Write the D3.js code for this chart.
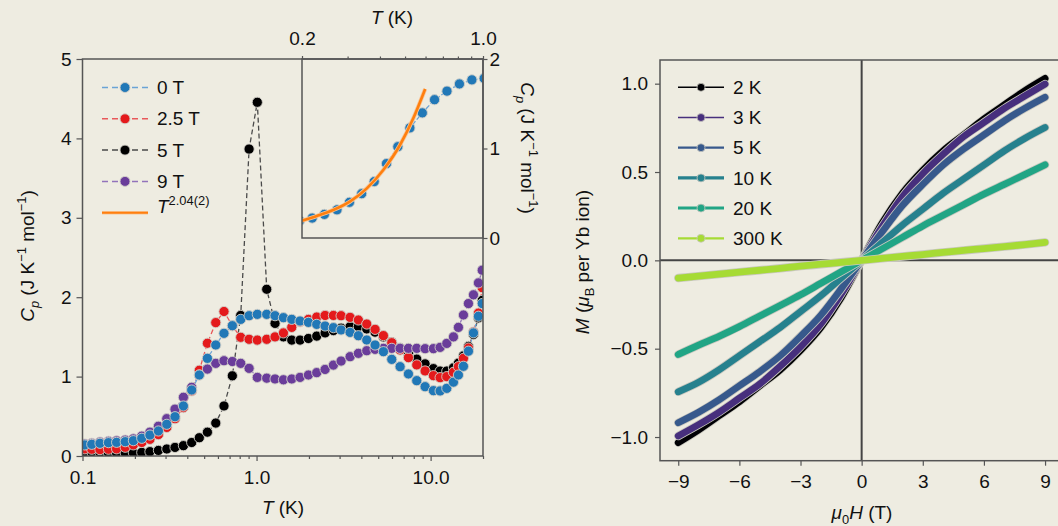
<!DOCTYPE html>
<html><head><meta charset="utf-8">
<script src="https://cdn.jsdelivr.net/npm/d3@7"></script>
<style>
html,body{margin:0;padding:0;background:#eeece1;}
svg{display:block;font-family:"Liberation Sans",Arial,Helvetica,sans-serif;}
</style></head><body>
<svg id="chart" width="1058" height="526"></svg>
<script>
// ---------- DATA: heat capacity (left panel) ----------
const temps = [0.103,0.113,0.126,0.141,0.157,0.176,0.196,0.219,0.244,0.273,0.305,0.340,0.380,0.424,0.469,0.522,0.583,0.650,0.726,0.811,0.906,1.01,
  1.144,1.277,1.427,1.593,1.778,1.986,2.217,2.476,2.764,3.06,3.446,3.847,4.297,4.797,5.357,5.982,6.679,7.458,8.327,9.299,
  10.38,11.34,12.39,13.53,14.45,15.44,16.50,17.63,18.83,19.8];
const cp0T = [0.139,0.147,0.160,0.168,0.172,0.180,0.193,0.223,0.264,0.315,0.399,0.495,0.630,0.831,1.020,1.230,1.398,1.545,1.641,1.721,1.767,1.784,
  1.784,1.767,1.742,1.721,1.700,1.683,1.658,1.637,1.616,1.587,1.557,1.515,1.461,1.398,1.314,1.217,1.125,1.033,0.949,0.873,
  0.823,0.819,0.852,0.930,1.020,1.130,1.320,1.550,1.760,1.920];
const cp25T = [0.090,0.085,0.080,0.085,0.090,0.110,0.140,0.170,0.210,0.270,0.360,0.470,0.610,0.820,1.080,1.420,1.680,1.820,1.640,1.495,1.470,1.460,
  1.470,1.500,1.550,1.620,1.690,1.720,1.750,1.770,1.770,1.767,1.746,1.713,1.662,1.595,1.516,1.427,1.335,1.239,1.147,1.071,
  1.012,0.987,1.000,1.054,1.125,1.230,1.360,1.560,1.800,2.120];
const cp5T = [0.055,0.050,0.045,0.040,0.038,0.038,0.040,0.045,0.055,0.070,0.088,0.108,0.130,0.170,0.230,0.300,0.415,0.630,1.010,1.770,3.866,4.455,
  2.100,1.670,1.500,1.460,1.460,1.480,1.510,1.550,1.580,1.610,1.630,1.630,1.600,1.560,1.500,1.430,1.360,1.290,1.220,1.160,
  1.100,1.070,1.070,1.110,1.170,1.260,1.380,1.530,1.740,1.960];
const cp9T = [0.150,0.160,0.175,0.185,0.190,0.200,0.215,0.250,0.300,0.375,0.470,0.590,0.740,0.865,1.020,1.095,1.167,1.200,1.190,1.167,1.104,0.990,
  0.980,0.970,0.960,0.970,0.990,1.020,1.050,1.090,1.145,1.196,1.251,1.293,1.326,1.343,1.356,1.356,1.356,1.356,1.356,1.352,
  1.352,1.368,1.418,1.500,1.620,1.776,1.920,2.030,2.180,2.340];
// power-law fit curve in the inset
const fitT  = [0.200,0.228,0.264,0.306,0.356,0.412,0.478,0.538,0.598];
const fitCp = [0.193,0.246,0.313,0.406,0.555,0.760,1.039,1.337,1.665];

const fieldLabels = ["0 T","2.5 T","5 T","9 T"];
const mainXTicks = [0.1,1,10];
const mainXTickLabels = ["0.1","1.0","10.0"];
const mainXMinor = [0.2,0.3,0.4,0.5,0.6,0.7,0.8,0.9,2,3,4,5,6,7,8,9,20];
const mainYTicks = [0,1,2,3,4,5];
const insetXTicks = [0.2,1.0];
const insetXTickLabels = ["0.2","1.0"];
const insetXMinor = [0.3,0.4,0.5,0.6,0.7,0.8,0.9];
const insetYTicks = [0,1,2];

// ---------- DATA: magnetization (right panel) ----------
const fieldH = [-9,-8,-7,-6,-5,-4,-3,-2,-1,0,1,2,3,4,5,6,7,8,9];
const m2K  = [-1.032,-0.96,-0.88,-0.80,-0.71,-0.62,-0.51,-0.38,-0.21,0,0.21,0.38,0.51,0.62,0.71,0.80,0.88,0.96,1.03];
const m3K  = [-0.994,-0.93,-0.86,-0.78,-0.70,-0.60,-0.49,-0.36,-0.19,0,0.19,0.36,0.49,0.60,0.70,0.78,0.86,0.93,0.998];
const m5K  = [-0.919,-0.86,-0.79,-0.71,-0.63,-0.54,-0.43,-0.31,-0.16,0,0.16,0.31,0.43,0.54,0.63,0.71,0.79,0.86,0.923];
const m10K = [-0.744,-0.69,-0.62,-0.54,-0.46,-0.38,-0.29,-0.20,-0.10,0,0.10,0.20,0.29,0.38,0.46,0.54,0.62,0.69,0.752];
const m20K = [-0.533,-0.48,-0.43,-0.375,-0.315,-0.255,-0.195,-0.13,-0.065,0,0.065,0.13,0.195,0.255,0.315,0.375,0.43,0.485,0.541];
const m300K= [-0.100,-0.089,-0.078,-0.067,-0.056,-0.045,-0.033,-0.022,-0.011,0,0.011,0.022,0.033,0.045,0.056,0.067,0.078,0.089,0.102];
const tempLabels = ["2 K","3 K","5 K","10 K","20 K","300 K"];
const hTicks = [-9,-6,-3,0,3,6,9];
const hTickLabels = ["\u22129","\u22126","\u22123","0","3","6","9"];
const mTicks = [-1,-0.5,0,0.5,1];
const mTickLabels = ["\u22121.0","\u22120.5","0.0","0.5","1.0"];

// ---------- DRAWING ----------
const svg = d3.select("#chart");
const BG = "#eeece1", AX = "#555", TXT = "#111", FS = 19;
svg.append("rect").attr("width",1058).attr("height",526).attr("fill",BG);
const defs = svg.append("defs");

function rich(sel, parts, size){
  let cur = 0;
  parts.forEach(p=>{
    const shift = p.sub ? 0.28*size : (p.sup ? -0.42*size : 0);
    const ts = sel.append("tspan").text(p.t).attr("dy", shift - cur);
    if(p.it) ts.attr("font-style","italic");
    if(p.sub || p.sup) ts.attr("font-size", size*0.68);
    cur = shift;
  });
}
function styleAxis(g){
  g.select(".domain").remove();
  g.selectAll(".tick line").attr("stroke",AX).attr("stroke-width",1.2);
  g.selectAll(".tick text").attr("fill",TXT).attr("font-size",FS).attr("font-family",null);
}

// ===== Left panel =====
const x = d3.scaleLog().domain([0.1,20]).range([82.5,483]);
const y = d3.scaleLinear().domain([0,5]).range([456,59]);
defs.append("clipPath").attr("id","clipMain").append("rect")
  .attr("x",x.range()[0]).attr("y",y.range()[1]).attr("width",x.range()[1]-x.range()[0]).attr("height",y.range()[0]-y.range()[1]);

const seriesDraw = [
  {key:2, values:cp5T,  fill:"#000000", line:"#4a4a4a"},
  {key:1, values:cp25T, fill:"#e41a1c", line:"#e8585a"},
  {key:3, values:cp9T,  fill:"#6a3d9a", line:"#9273bb"},
  {key:0, values:cp0T,  fill:"#2178b7", line:"#6aa3d6"}
];

const gMain = svg.append("g").attr("clip-path","url(#clipMain)");
const lineMain = d3.line().x((d,i)=>x(temps[i])).y(d=>y(d));
seriesDraw.forEach(s=>{
  gMain.append("path").attr("d",lineMain(s.values)).attr("fill","none")
    .attr("stroke",s.line).attr("stroke-width",1.3).attr("stroke-dasharray","5,3");
});
seriesDraw.forEach(s=>{
  gMain.selectAll(null).data(s.values).enter().append("circle")
    .attr("cx",(d,i)=>x(temps[i])).attr("cy",d=>y(d)).attr("r",5.1)
    .attr("fill",s.fill).attr("stroke","#d2d0c8").attr("stroke-width",0.9);
});

// axes
const axB = svg.append("g").attr("transform","translate(0,456)")
  .call(d3.axisBottom(x).tickValues(mainXTicks).tickFormat((d,i)=>mainXTickLabels[i]).tickSize(5).tickPadding(10));
styleAxis(axB);
const axBm = svg.append("g").attr("transform","translate(0,456)")
  .call(d3.axisBottom(x).tickValues(mainXMinor).tickFormat("").tickSize(3));
styleAxis(axBm);
const axL = svg.append("g").attr("transform","translate(82.5,0)")
  .call(d3.axisLeft(y).tickValues(mainYTicks).tickFormat(d3.format("d")).tickSize(6).tickPadding(5));
styleAxis(axL);

// inset
const xi = d3.scaleLog().domain([0.2,1.0]).range([302,483]);
const yi = d3.scaleLinear().domain([0,2]).range([238,59]);
svg.append("rect").attr("x",302).attr("y",59).attr("width",181).attr("height",179).attr("fill",BG);
defs.append("clipPath").attr("id","clipInset").append("rect").attr("x",302).attr("y",59).attr("width",181).attr("height",179);
const gIn = svg.append("g").attr("clip-path","url(#clipInset)");
const inIdx = temps.map((t,i)=>i).filter(i=>temps[i]>0.18 && temps[i]<1.1);
const lineIn = d3.line().x(i=>xi(temps[i])).y(i=>yi(cp0T[i]));
gIn.append("path").attr("d",lineIn(inIdx)).attr("fill","none").attr("stroke","#6aa3d6")
  .attr("stroke-width",1.3).attr("stroke-dasharray","5,2");
gIn.selectAll(null).data(inIdx).enter().append("circle")
  .attr("cx",i=>xi(temps[i])).attr("cy",i=>yi(cp0T[i])).attr("r",5.1)
  .attr("fill","#2178b7").attr("stroke","#d2d0c8").attr("stroke-width",0.9);
const lineFit = d3.line().curve(d3.curveMonotoneX).x((d,i)=>xi(fitT[i])).y(d=>yi(d));
gIn.append("path").attr("d",lineFit(fitCp)).attr("fill","none").attr("stroke","#f7c79a").attr("stroke-width",4.2);
gIn.append("path").attr("d",lineFit(fitCp)).attr("fill","none").attr("stroke","#ff7f0e").attr("stroke-width",2.6);

const axT = svg.append("g").attr("transform","translate(0,59)")
  .call(d3.axisTop(xi).tickValues(insetXTicks).tickFormat((d,i)=>insetXTickLabels[i]).tickSize(3).tickPadding(11));
styleAxis(axT);
const axTm = svg.append("g").attr("transform","translate(0,59)")
  .call(d3.axisTop(xi).tickValues(insetXMinor).tickFormat("").tickSize(2.5));
styleAxis(axTm);
const axR = svg.append("g").attr("transform","translate(483,0)")
  .call(d3.axisRight(yi).tickValues(insetYTicks).tickFormat(d3.format("d")).tickSize(4.5).tickPadding(2));
styleAxis(axR);

// frames
svg.append("rect").attr("x",82.5).attr("y",59).attr("width",400.5).attr("height",397)
  .attr("fill","none").attr("stroke",AX).attr("stroke-width",1.5);
svg.append("rect").attr("x",302).attr("y",59).attr("width",181).attr("height",179)
  .attr("fill","none").attr("stroke",AX).attr("stroke-width",1.5);

// labels left panel
const ylab = svg.append("text").attr("transform","translate(34,256) rotate(-90)")
  .attr("text-anchor","middle").attr("font-size",FS).attr("fill",TXT);
rich(ylab,[{t:"C",it:true},{t:"p",it:true,sub:true},{t:" (J K"},{t:"\u22121",sup:true},{t:" mol"},{t:"\u22121",sup:true},{t:")"}],FS);
const xlab = svg.append("text").attr("x",283).attr("y",514).attr("text-anchor","middle").attr("font-size",FS).attr("fill",TXT);
rich(xlab,[{t:"T",it:true},{t:" (K)"}],FS);
const xlabI = svg.append("text").attr("x",392).attr("y",24).attr("text-anchor","middle").attr("font-size",FS).attr("fill",TXT);
rich(xlabI,[{t:"T",it:true},{t:" (K)"}],FS);
const ylabI = svg.append("text").attr("transform","translate(521,148) rotate(90)")
  .attr("text-anchor","middle").attr("font-size",FS).attr("fill",TXT);
rich(ylabI,[{t:"C",it:true},{t:"p",it:true,sub:true},{t:" (J K"},{t:"\u22121",sup:true},{t:" mol"},{t:"\u22121",sup:true},{t:")"}],FS);

// legend left
const legL = svg.append("g");
const legY0 = 87.5, legDY = 31.3;
[0,1,2,3].forEach(k=>{
  const s = seriesDraw.find(d=>d.key===k);
  const yy = legY0 + k*legDY;
  legL.append("line").attr("x1",102).attr("x2",148).attr("y1",yy).attr("y2",yy)
    .attr("stroke",s.line).attr("stroke-width",1.5).attr("stroke-dasharray","6,4");
  legL.append("circle").attr("cx",125).attr("cy",yy).attr("r",5).attr("fill",s.fill).attr("stroke","#d2d0c8").attr("stroke-width",0.9);
  legL.append("text").attr("x",157).attr("y",yy).attr("dy","0.35em").attr("font-size",FS).attr("fill",TXT).text(fieldLabels[k]);
});
{
  const yy = legY0 + 4*legDY;
  legL.append("line").attr("x1",102).attr("x2",148).attr("y1",yy).attr("y2",yy).attr("stroke","#f7c79a").attr("stroke-width",3.5);
  legL.append("line").attr("x1",102).attr("x2",148).attr("y1",yy).attr("y2",yy).attr("stroke","#ff7f0e").attr("stroke-width",2);
  const t = legL.append("text").attr("x",157).attr("y",yy).attr("dy","0.35em").attr("font-size",FS).attr("fill",TXT);
  rich(t,[{t:"T",it:true},{t:"2.04(2)",sup:true}],FS);
}

// ===== Right panel =====
const xr = d3.scaleLinear().domain([-9.9,9.9]).range([659.9,1063.4]);
const yr = d3.scaleLinear().domain([-1.134,1.134]).range([460.7,60]);
defs.append("clipPath").attr("id","clipR").append("rect").attr("x",660).attr("y",60).attr("width",404).attr("height",400.7);

// zero lines
svg.append("line").attr("x1",xr(0)).attr("x2",xr(0)).attr("y1",60).attr("y2",460.7).attr("stroke","#444").attr("stroke-width",2);
svg.append("line").attr("x1",660).attr("x2",1064).attr("y1",yr(0)).attr("y2",yr(0)).attr("stroke","#444").attr("stroke-width",2);

const mSeries = [m2K,m3K,m5K,m10K,m20K,m300K];
const mColors = ["#000004","#472f7d","#37598c","#26818e","#21a585","#a6db34"];
const gR = svg.append("g").attr("clip-path","url(#clipR)");
const lineR = d3.line().curve(d3.curveMonotoneX).x((d,i)=>xr(fieldH[i])).y(d=>yr(d));
mSeries.forEach((vals,k)=>{
  gR.append("path").attr("d",lineR(vals)).attr("fill","none").attr("stroke","#c9c8bf")
    .attr("stroke-width",8.4).attr("stroke-linecap","round").attr("stroke-linejoin","round");
  gR.append("path").attr("d",lineR(vals)).attr("fill","none").attr("stroke",mColors[k])
    .attr("stroke-width",6.8).attr("stroke-linecap","round").attr("stroke-linejoin","round");
});

const axRB = svg.append("g").attr("transform","translate(0,460.7)")
  .call(d3.axisBottom(xr).tickValues(hTicks).tickFormat((d,i)=>hTickLabels[i]).tickSize(5).tickPadding(9));
styleAxis(axRB);
const axRL = svg.append("g").attr("transform","translate(660,0)")
  .call(d3.axisLeft(yr).tickValues(mTicks).tickFormat((d,i)=>mTickLabels[i]).tickSize(5).tickPadding(7));
styleAxis(axRL);
svg.append("rect").attr("x",660).attr("y",60).attr("width",404).attr("height",400.7)
  .attr("fill","none").attr("stroke",AX).attr("stroke-width",1.5);

// legend right
const lw = [1.6,1.6,2.2,3.2,3.0,2.2];
mColors.forEach((c,k)=>{
  const yy = 87.3 + k*30.2;
  svg.append("line").attr("x1",678).attr("x2",724).attr("y1",yy).attr("y2",yy).attr("stroke",c).attr("stroke-width",lw[k]);
  svg.append("circle").attr("cx",701).attr("cy",yy).attr("r",4).attr("fill",c).attr("stroke","#c9c8bf").attr("stroke-width",0.8);
  svg.append("text").attr("x",733).attr("y",yy).attr("dy","0.35em").attr("font-size",FS).attr("fill",TXT).text(tempLabels[k]);
});

// labels right panel
const ylabR = svg.append("text").attr("transform","translate(589,262) rotate(-90)")
  .attr("text-anchor","middle").attr("font-size",FS).attr("fill",TXT);
rich(ylabR,[{t:"M",it:true},{t:" ("},{t:"\u03bc",it:true},{t:"B",sub:true},{t:" per Yb ion)"}],FS);
const xlabR = svg.append("text").attr("x",862).attr("y",519).attr("text-anchor","middle").attr("font-size",FS).attr("fill",TXT);
rich(xlabR,[{t:"\u03bc",it:true},{t:"0",sub:true},{t:"H",it:true},{t:" (T)"}],FS);
</script>
</body></html>
